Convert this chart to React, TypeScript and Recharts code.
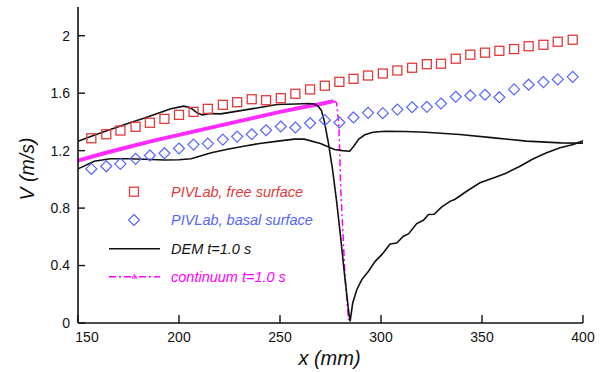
import React from 'react';
import { ComposedChart, XAxis, YAxis, Line, Scatter, Legend } from 'recharts';

// ---- data ----
const pivX = [156.6, 164.0, 171.0, 178.5, 185.6, 192.8, 200.0, 207.2, 214.3, 221.7, 228.8, 236.0, 243.1, 250.4, 257.6, 264.9, 272.2, 279.4, 286.4, 293.6, 300.9, 308.1, 315.4, 322.7, 329.7, 337.0, 344.2, 351.5, 358.6, 365.9, 373.1, 380.4, 387.5, 394.9];
const pivFreeSurface = [1.286, 1.314, 1.340, 1.366, 1.394, 1.421, 1.449, 1.470, 1.491, 1.519, 1.537, 1.558, 1.551, 1.565, 1.596, 1.626, 1.652, 1.679, 1.700, 1.723, 1.737, 1.758, 1.777, 1.802, 1.805, 1.840, 1.868, 1.882, 1.895, 1.907, 1.927, 1.937, 1.958, 1.972];
const pivBasalSurface = [1.073, 1.091, 1.108, 1.143, 1.166, 1.182, 1.215, 1.242, 1.249, 1.277, 1.298, 1.314, 1.342, 1.368, 1.361, 1.391, 1.412, 1.396, 1.431, 1.463, 1.461, 1.486, 1.502, 1.505, 1.528, 1.575, 1.584, 1.589, 1.572, 1.626, 1.659, 1.677, 1.696, 1.714];

const demFreeX = [150, 158, 166, 175, 183, 190, 196, 202.4, 205.7, 209, 211.5, 215.6, 220.6, 226, 232, 240, 248.6, 258, 264, 267, 268.8, 270.5, 272, 274, 276, 278, 280, 282, 284, 284.7, 286.0, 288.0, 290.5, 293.8, 297.1, 300.4, 304.5, 307.8, 311.1, 313.6, 317.7, 321.0, 323.5, 326.3, 330.1, 334.2, 336.7, 342.4, 349, 355.6, 362.2, 368.8, 375.4, 382, 388.6, 395.2, 399.4, 400];
const demFreeV = [1.266, 1.307, 1.347, 1.390, 1.428, 1.462, 1.491, 1.510, 1.498, 1.463, 1.449, 1.458, 1.456, 1.468, 1.482, 1.500, 1.521, 1.525, 1.528, 1.525, 1.51, 1.48, 1.40, 1.25, 1.07, 0.85, 0.60, 0.33, 0.08, 0.011, 0.139, 0.232, 0.302, 0.360, 0.429, 0.476, 0.550, 0.557, 0.604, 0.620, 0.692, 0.715, 0.755, 0.757, 0.808, 0.847, 0.862, 0.917, 0.976, 1.010, 1.045, 1.091, 1.143, 1.185, 1.220, 1.243, 1.266, 1.268];

const demBasalX = [150, 158, 166, 175, 183, 193, 200, 206, 211, 216, 224, 232, 240, 249, 257, 262, 270, 277, 281, 284.5, 286.5, 289, 292, 296, 302, 312, 322, 339, 356, 372, 389, 400];
const demBasalV = [1.073, 1.126, 1.143, 1.143, 1.140, 1.135, 1.137, 1.143, 1.165, 1.185, 1.210, 1.231, 1.250, 1.266, 1.280, 1.280, 1.250, 1.208, 1.200, 1.196, 1.23, 1.28, 1.31, 1.328, 1.335, 1.333, 1.328, 1.312, 1.289, 1.266, 1.254, 1.252];

const continuumX = [150, 162.5, 175, 187.5, 200, 212.5, 225, 237.5, 250, 262.5, 270, 275, 276.5, 278, 279.1, 280.1, 282.2, 283.9];
const continuumV = [1.13, 1.18, 1.225, 1.27, 1.31, 1.35, 1.39, 1.43, 1.47, 1.505, 1.525, 1.54, 1.545, 1.533, 1.394, 0.929, 0.325, 0.02];

const xTicks = [150, 200, 250, 300, 350, 400];
const xTicksTop = [200, 250, 300, 350];
const yTicks = [0, 0.4, 0.8, 1.2, 1.6, 2];

const legendLabels = ['PIVLab, free surface', 'PIVLab, basal surface', 'DEM t=1.0 s', 'continuum t=1.0 s'];

// ---- built tables ----
const zip = (xs: number[], vs: number[]) => xs.map((x, i) => ({ x, v: vs[i] }));
const freeData = zip(pivX, pivFreeSurface);
const basalData = zip(pivX, pivBasalSurface);
const demFreeData = zip(demFreeX, demFreeV);
const demBasalData = zip(demBasalX, demBasalV);
const contData = zip(continuumX, continuumV);
const contBand = contData.filter((d) => d.x <= 276.5);
const contDrop = contData.filter((d) => d.x >= 276.5);

const FONT = "'Liberation Sans', Arial, sans-serif";
const RED = '#e23a3a';
const BLUE = '#5565ff';
const MAGENTA = '#ff00ff';

const SquareShape = (p: any) => (
  <rect x={p.cx - 4.5} y={p.cy - 4.5} width={9} height={9} fill="none" stroke={RED} strokeWidth={1.3} />
);
const DiamondShape = (p: any) => (
  <polygon
    points={`${p.cx},${p.cy - 5.5} ${p.cx + 5.5},${p.cy} ${p.cx},${p.cy + 5.5} ${p.cx - 5.5},${p.cy}`}
    fill="none"
    stroke={BLUE}
    strokeWidth={1.2}
  />
);

const XTick = (p: any) => {
  const v = p.payload.value;
  return (
    <text x={p.x + (v === 150 ? 9 : 0)} y={p.y} dy="0.71em" textAnchor="middle" fill="#111" fontFamily={FONT} fontSize={14}>
      {String(v)}
    </text>
  );
};

const YTick = (p: any) => (
  <text x={p.x} y={p.y} dy="0.35em" textAnchor="end" fill="#111" fontFamily={FONT} fontSize={14}>
    {String(p.payload.value)}
  </text>
);

const XTitle = () => (
  <text x={329.5} y={365} textAnchor="middle" fill="#111" fontFamily={FONT} fontSize={20} fontStyle="italic">
    x (mm)
  </text>
);
const YTitle = () => (
  <text transform="translate(34,169) rotate(-90)" textAnchor="middle" fill="#111" fontFamily={FONT} fontSize={19.5} fontStyle="italic">
    V (m/s)
  </text>
);

const LegendBox = () => {
  const ty = [16.7, 45, 73.7, 101.7];
  const colors = [RED, BLUE, '#111', MAGENTA];
  return (
    <svg width={260} height={115} style={{ display: 'block', overflow: 'visible' }}>
      <rect x={29.5} y={ty[0] - 4.5} width={9} height={9} fill="none" stroke={RED} strokeWidth={1.3} />
      <polygon points={`34,${ty[1] - 5.5} 39.5,${ty[1]} 34,${ty[1] + 5.5} 28.5,${ty[1]}`} fill="none" stroke={BLUE} strokeWidth={1.2} />
      <line x1={9} x2={60} y1={ty[2]} y2={ty[2]} stroke="#111" strokeWidth={1.6} />
      <line x1={9} x2={60} y1={ty[3]} y2={ty[3]} stroke={MAGENTA} strokeWidth={1.5} strokeDasharray="7 3 2 3" />
      <polygon points={`34.5,${ty[3] - 2.5} 37,${ty[3] + 1.5} 32,${ty[3] + 1.5}`} fill="none" stroke={MAGENTA} strokeWidth={0.8} />
      {legendLabels.map((t, i) => (
        <text key={t} x={71} y={ty[i] + 5} fill={colors[i]} fontFamily={FONT} fontSize={14.5} fontStyle="italic">
          {t}
        </text>
      ))}
    </svg>
  );
};

export default function App() {
  return (
    <div style={{ position: 'absolute', left: 0, top: 0, width: 602, height: 372, background: '#fff' }}>
      <ComposedChart width={602} height={372} margin={{ top: 7, right: 19, bottom: 0, left: 0 }}>
        <XAxis
          dataKey="x"
          type="number"
          domain={[150, 400]}
          ticks={xTicks}
          height={49}
          stroke="#111"
          axisLine={{ stroke: '#111', strokeWidth: 1.6 }}
          tickLine={{ stroke: '#111', strokeWidth: 1.4 }}
          tickSize={-8}
          tickMargin={17}
          tick={<XTick />}
          label={<XTitle />}
        />
        <XAxis
          xAxisId="top"
          orientation="top"
          type="number"
          domain={[150, 400]}
          ticks={xTicksTop}
          height={0}
          axisLine={{ stroke: '#111', strokeWidth: 1.6 }}
          tickLine={{ stroke: '#111', strokeWidth: 1.4 }}
          tickSize={-8}
          tick={false}
        />
        <YAxis
          dataKey="v"
          type="number"
          domain={[0, 2.2]}
          ticks={yTicks}
          width={78}
          axisLine={{ stroke: '#111', strokeWidth: 1.6 }}
          tickLine={{ stroke: '#111', strokeWidth: 1.4 }}
          tickSize={-7}
          tickMargin={15}
          tick={<YTick />}
          label={<YTitle />}
        />
        <YAxis
          yAxisId="right"
          orientation="right"
          type="number"
          domain={[0, 2.2]}
          ticks={yTicks}
          width={0}
          axisLine={{ stroke: '#111', strokeWidth: 1.6 }}
          tickLine={{ stroke: '#111', strokeWidth: 1.4 }}
          tickSize={-7}
          tick={false}
        />
        <Line data={contBand} dataKey="v" type="linear" dot={false} stroke="#ff2cff" strokeWidth={4} isAnimationActive={false} legendType="none" />
        <Line data={contDrop} dataKey="v" type="linear" dot={false} stroke={MAGENTA} strokeWidth={1.5} strokeDasharray="7 3 2 3" isAnimationActive={false} legendType="none" />
        <Line data={demBasalData} dataKey="v" type="linear" dot={false} stroke="#111" strokeWidth={1.6} isAnimationActive={false} legendType="none" />
        <Line data={demFreeData} dataKey="v" type="linear" dot={false} stroke="#111" strokeWidth={1.6} isAnimationActive={false} legendType="none" />
        <Scatter data={freeData} dataKey="v" shape={SquareShape} isAnimationActive={false} legendType="none" />
        <Scatter data={basalData} dataKey="v" shape={DiamondShape} isAnimationActive={false} legendType="none" />
        <Legend
          layout="vertical"
          align="center"
          verticalAlign="middle"
          content={LegendBox}
          wrapperStyle={{ left: 100, top: 175, width: 260, height: 115, margin: 0 }}
        />
      </ComposedChart>
    </div>
  );
}
